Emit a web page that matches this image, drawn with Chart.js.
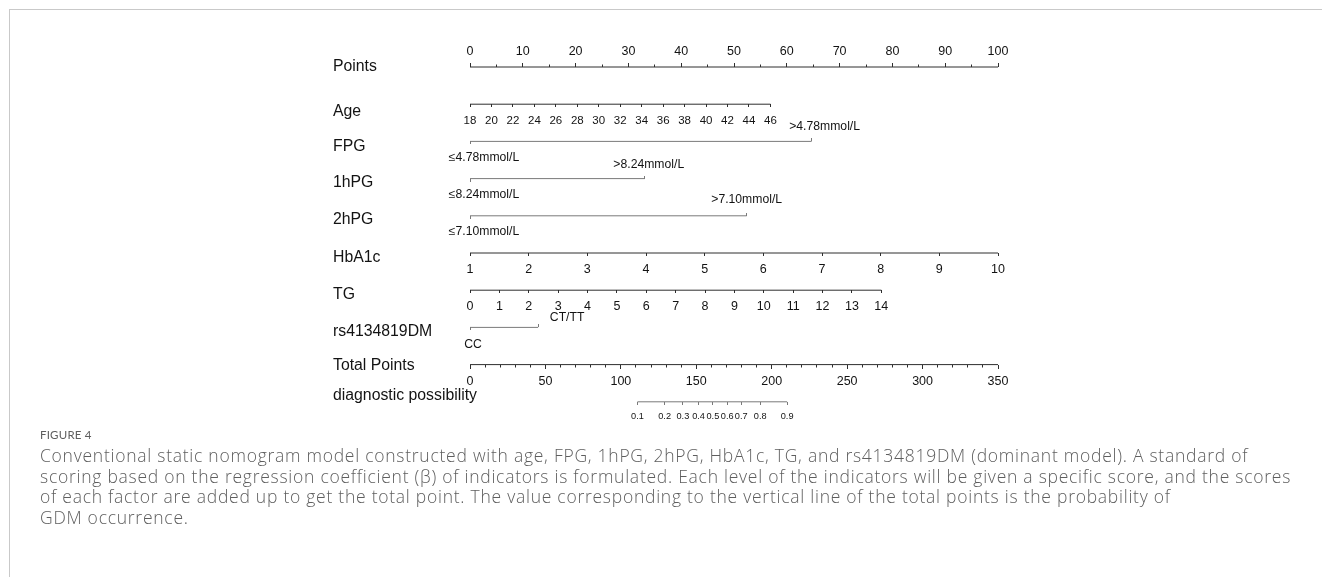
<!DOCTYPE html>
<html>
<head>
<meta charset="utf-8">
<script src="https://cdn.jsdelivr.net/npm/chart.js@4.4.1/dist/chart.umd.min.js"></script>
<style>
  html, body { margin: 0; padding: 0; background: #fff; }
  body { width: 1322px; height: 577px; position: relative; overflow: hidden; }
  #frame { position: absolute; left: 9px; top: 9px; width: 1320px; height: 570px;
           border-top: 1px solid #c9c9c9; border-left: 1px solid #c9c9c9; }
  #wrap { position: absolute; left: 0; top: 0; width: 1322px; height: 430px; }
  #caption { position: absolute; left: 40px; top: 425px; color: #5e5e5e; white-space: nowrap; }
  #caption .fig { font-family: Lato, "Open Sans", sans-serif; font-size: 11.5px; letter-spacing: 0.2px; line-height: 20px; }
  #caption .txt { font-family: "Open Sans", Lato, sans-serif; font-weight: 300; font-size: 17.5px;
                  letter-spacing: 0.74px; line-height: 20.7px; }
</style>
</head>
<body>
<div id="frame"></div>
<div id="wrap"><canvas id="nomo"></canvas></div>
<div id="caption">
  <div class="fig">FIGURE 4</div>
  <div class="txt">Conventional static nomogram model constructed with age, FPG, 1hPG, 2hPG, HbA1c, TG, and rs4134819DM (dominant model). A standard of<br>scoring based on the regression coefficient (β) of indicators is formulated. Each level of the indicators will be given a specific score, and the scores<br>of each factor are added up to get the total point. The value corresponding to the vertical line of the total points is the probability of<br>GDM occurrence.</div>
</div>
<script>
// ---- nomogram content ----
const rowNames = ['Points', 'Age', 'FPG', '1hPG', '2hPG', 'HbA1c', 'TG', 'rs4134819DM', 'Total Points', 'diagnostic possibility'];

const pointTicks = [0, 10, 20, 30, 40, 50, 60, 70, 80, 90, 100];
const pointMinorTicks = [0, 5, 10, 15, 20, 25, 30, 35, 40, 45, 50, 55, 60, 65, 70, 75, 80, 85, 90, 95, 100];

const ageTicks = [18, 20, 22, 24, 26, 28, 30, 32, 34, 36, 38, 40, 42, 44, 46];
const agePointsAtMax = 56.9;

const fpgLevels = ['≤4.78mmol/L', '>4.78mmol/L'];
const fpgPoints = [0, 64.7];
const pg1hLevels = ['≤8.24mmol/L', '>8.24mmol/L'];
const pg1hPoints = [0, 33.1];
const pg2hLevels = ['≤7.10mmol/L', '>7.10mmol/L'];
const pg2hPoints = [0, 52.4];

const hba1cTicks = [1, 2, 3, 4, 5, 6, 7, 8, 9, 10];
const hba1cPointsAtMax = 100;

const tgTicks = [0, 1, 2, 3, 4, 5, 6, 7, 8, 9, 10, 11, 12, 13, 14];
const tgPointsAtMax = 77.9;

const snpLevels = ['CC', 'CT/TT'];
const snpPoints = [0, 12.9];

const totalTicks = [0, 50, 100, 150, 200, 250, 300, 350];
const totalMinorTicks = [0, 10, 20, 30, 40, 50, 60, 70, 80, 90, 100, 110, 120, 130, 140, 150, 160, 170, 180, 190, 200,
                         210, 220, 230, 240, 250, 260, 270, 280, 290, 300, 310, 320, 330, 340, 350];

const probLabels = ['0.1', '0.2', '0.3', '0.4', '0.5', '0.6', '0.7', '0.8', '0.9'];
const probTotalPoints = [111.0, 129.0, 141.1, 151.5, 161.0, 170.5, 179.8, 192.4, 210.2];

// ---- layout ----
const FONT = '"Liberation Sans", Arial, Helvetica, sans-serif';
const CANVAS_H = 430;
const PAD_TOP = 20, PAD_BOTTOM = 10;
const AXIS_LEFT = 470, AXIS_RIGHT = 998, NAME_LEFT = 333;
const FIRST_ROW_PX = 67;      // pixel row of the Points axis
const ROW_GAP_PX = 37.2;      // vertical distance between rows
const nameShiftPx = [0, 7, 5, 4, 4, 5, 4, 4, 1, -6];
const AREA_H = CANVAS_H - PAD_TOP - PAD_BOTTOM;
const yMin = -(FIRST_ROW_PX - PAD_TOP) / ROW_GAP_PX;
const yMax = yMin + AREA_H / ROW_GAP_PX;
const PX_PER_POINT = (AXIS_RIGHT - AXIS_LEFT) / 100;
// horizontal nudge of level labels, in pixels: [lower level, upper level]
const fpgNudge = [14, 13], pg1Nudge = [14, 4], pg2Nudge = [14, 0], snpNudge = [3, 29];

const DARK = '#2e2e2e';
const GREY = '#7a7a7a';
const TEXT = '#131313';
const NONE = 'rgba(0,0,0,0)';

// maximum of a variable's scale so that `hi` lands on `pts` points
function scaleMaxFor(lo, hi, pts) { return lo + (hi - lo) * 100 / pts; }

// one axis on a nomogram row; `up` puts tick marks and labels above the line
function rowAxis(row, min, max, values, labels, o) {
  const size = o.size || 12.5;
  const lh = size * 1.2;
  const len = o.len || 3;
  const gap = o.gap || 15;
  const up = !!o.up;
  const pad = up ? -(gap - len - lh / 2) : (gap - len - lh / 2);
  const shift = o.shift || values.map(() => 0);
  return {
    type: 'linear', axis: 'x', position: { y: row }, min: min, max: max,
    afterBuildTicks: s => { s.ticks = values.map((v, i) => ({ value: v + shift[i] })); },
    ticks: {
      display: !!labels, autoSkip: false, maxRotation: 0, minRotation: 0,
      callback: (v, i) => labels ? labels[i] : '',
      font: { family: FONT, size: size }, color: TEXT, padding: pad, mirror: up,
      crossAlign: 'near'
    },
    grid: { display: true, drawOnChartArea: false, drawTicks: true,
            tickLength: up ? -len : len, tickColor: o.tickColor || DARK, tickWidth: 1 },
    border: { display: false }
  };
}

// two-level factor: tick marks at the level scores, labels slightly nudged
function levelAxes(row, points, levels, nudgePx, gaps) {
  const toPts = px => px / PX_PER_POINT;
  return {
    lo: rowAxis(row, 0, 100, [points[0]], null, { len: 3, tickColor: GREY }),
    hi: rowAxis(row, 0, 100, [points[1]], null, { up: true, len: 3, tickColor: GREY }),
    loText: rowAxis(row, 0, 100, [points[0]], [levels[0]],
                    { len: 3, gap: gaps[0], size: 12.2, tickColor: NONE, shift: [toPts(nudgePx[0])] }),
    hiText: rowAxis(row, 0, 100, [points[1]], [levels[1]],
                    { up: true, len: 3, gap: gaps[1], size: 12.2, tickColor: NONE, shift: [toPts(nudgePx[1])] })
  };
}

function lineSet(axisId, row, from, to, color) {
  return { xAxisID: axisId, yAxisID: 'y', data: [{ x: from, y: row }, { x: to, y: row }],
           showLine: true, borderColor: color, borderWidth: 1, pointRadius: 0, fill: false };
}

const ageMax = scaleMaxFor(ageTicks[0], ageTicks[ageTicks.length - 1], agePointsAtMax);
const hbMax = scaleMaxFor(hba1cTicks[0], hba1cTicks[hba1cTicks.length - 1], hba1cPointsAtMax);
const tgMax = scaleMaxFor(tgTicks[0], tgTicks[tgTicks.length - 1], tgPointsAtMax);
const totalMax = totalTicks[totalTicks.length - 1];

const fpgAx = levelAxes(2, fpgPoints, fpgLevels, fpgNudge, [16, 15]);
const pg1Ax = levelAxes(3, pg1hPoints, pg1hLevels, pg1Nudge, [16, 14]);
const pg2Ax = levelAxes(4, pg2hPoints, pg2hLevels, pg2Nudge, [16, 16]);
const snpAx = levelAxes(7, snpPoints, snpLevels, snpNudge, [17, 10]);

const scales = {
  y: {
    type: 'linear', position: 'left', reverse: true, min: yMin, max: yMax,
    afterBuildTicks: s => { s.ticks = rowNames.map((n, i) => ({ value: i + nameShiftPx[i] / ROW_GAP_PX })); },
    afterFit: s => { s.width = 0; },
    ticks: { autoSkip: false, mirror: true, crossAlign: 'near', padding: NAME_LEFT - AXIS_LEFT, color: TEXT,
             font: { family: FONT, size: 15.8 }, callback: (v, i) => rowNames[i] },
    grid: { display: false }, border: { display: false }
  },
  pts: rowAxis(0, 0, 100, pointTicks, pointTicks.map(String), { up: true, len: 4, gap: 15 }),
  ptsMinor: rowAxis(0, 0, 100, pointMinorTicks, null, { up: true, len: 2.5 }),
  age: rowAxis(1, ageTicks[0], ageMax, ageTicks, ageTicks.map(String), { len: 3, gap: 16.5, size: 11.5 }),
  fpgLo: fpgAx.lo, fpgHi: fpgAx.hi, fpgLoText: fpgAx.loText, fpgHiText: fpgAx.hiText,
  pg1Lo: pg1Ax.lo, pg1Hi: pg1Ax.hi, pg1LoText: pg1Ax.loText, pg1HiText: pg1Ax.hiText,
  pg2Lo: pg2Ax.lo, pg2Hi: pg2Ax.hi, pg2LoText: pg2Ax.loText, pg2HiText: pg2Ax.hiText,
  hba1c: rowAxis(5, hba1cTicks[0], hbMax, hba1cTicks, hba1cTicks.map(String), { len: 3, gap: 17 }),
  tg: rowAxis(6, tgTicks[0], tgMax, tgTicks, tgTicks.map(String), { len: 3, gap: 16.5 }),
  snpLo: snpAx.lo, snpHi: snpAx.hi, snpLoText: snpAx.loText, snpHiText: snpAx.hiText,
  total: rowAxis(8, 0, totalMax, totalTicks, totalTicks.map(String), { len: 4, gap: 17 }),
  totalMinor: rowAxis(8, 0, totalMax, totalMinorTicks, null, { len: 2.5 }),
  prob: rowAxis(9, 0, totalMax, probTotalPoints, probLabels, { len: 3, gap: 14.5, size: 9.2, tickColor: GREY })
};

const datasets = [
  lineSet('pts', 0, pointTicks[0], pointTicks[pointTicks.length - 1], DARK),
  lineSet('age', 1, ageTicks[0], ageTicks[ageTicks.length - 1], DARK),
  lineSet('fpgLo', 2, fpgPoints[0], fpgPoints[1], GREY),
  lineSet('pg1Lo', 3, pg1hPoints[0], pg1hPoints[1], GREY),
  lineSet('pg2Lo', 4, pg2hPoints[0], pg2hPoints[1], GREY),
  lineSet('hba1c', 5, hba1cTicks[0], hba1cTicks[hba1cTicks.length - 1], DARK),
  lineSet('tg', 6, tgTicks[0], tgTicks[tgTicks.length - 1], DARK),
  lineSet('snpLo', 7, snpPoints[0], snpPoints[1], GREY),
  lineSet('total', 8, totalTicks[0], totalMax, DARK),
  lineSet('prob', 9, probTotalPoints[0], probTotalPoints[probTotalPoints.length - 1], GREY)
];

new Chart(document.getElementById('nomo'), {
  type: 'scatter',
  data: { datasets: datasets },
  options: {
    responsive: true, maintainAspectRatio: false, animation: false, devicePixelRatio: 1,
    layout: { padding: { left: AXIS_LEFT, right: 1322 - AXIS_RIGHT, top: PAD_TOP, bottom: PAD_BOTTOM } },
    plugins: { legend: { display: false }, tooltip: { enabled: false } },
    events: [],
    scales: scales
  }
});
</script>
</body>
</html>
